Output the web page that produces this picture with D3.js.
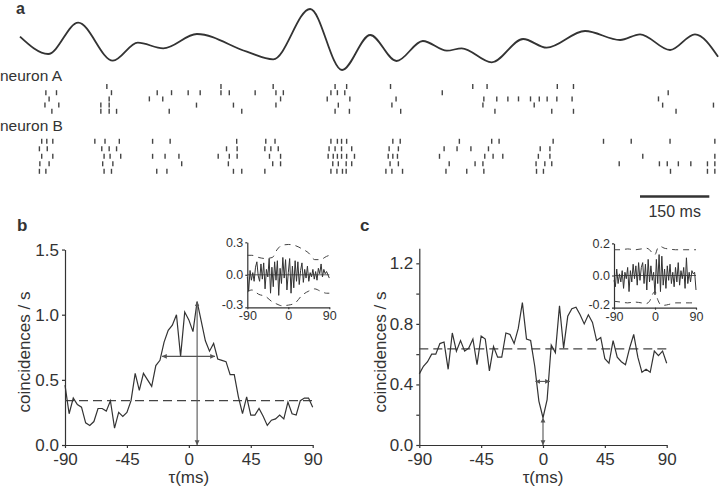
<!DOCTYPE html>
<html>
<head>
<meta charset="utf-8">
<script src="https://cdn.jsdelivr.net/npm/d3@7/dist/d3.min.js"></script>
<style>
  body { margin: 0; background: #fff; }
  svg { font-family: "Liberation Sans", Arial, Helvetica, sans-serif; }
</style>
</head>
<body>
<svg id="fig" width="720" height="491"></svg>
<script>
// ---- panel a : stimulus waveform (extrema, ms / arbitrary units)
var waveT = [0, 61, 126, 201, 255, 310, 383, 491, 548, 628, 697, 758, 815, 872, 924, 956, 1021, 1089, 1140, 1223, 1299, 1342, 1407, 1461, 1511];
var waveV = [0.33, -1.4, 1.73, -2.07, -0.27, -0.83, 0.6, -1.17, -1.93, 3.1, -3.0, 0.5, -2.1, -0.1, -1.07, -0.83, -2.23, 0.1, -0.77, 0.9, 0.0, 0.57, -1.0, 0.57, -1.67];

// spike times (ms), one list per trial
var spikesA = [
  [188, 435, 548, 682, 707, 802, 980, 1011, 1163, 1198],
  [56, 79, 198, 297, 328, 364, 390, 435, 453, 509, 554, 570, 673, 687, 703, 914, 1403],
  [63, 193, 280, 309, 564, 665, 714, 814, 1004, 1032, 1056, 1079, 1105, 1124, 1141, 1162, 1195, 1382],
  [54, 84, 175, 193, 382, 462, 554, 689, 805, 1002, 1113, 1391, 1501],
  [69, 175, 193, 209, 323, 480, 682, 713, 824, 1028, 1151, 1198, 1420]
];
var spikesB = [
  [47, 58, 71, 162, 184, 215, 287, 325, 469, 532, 552, 673, 687, 696, 707, 807, 823, 951, 1021, 1037, 1154, 1263, 1323, 1407, 1504],
  [42, 59, 177, 193, 209, 447, 470, 530, 543, 559, 669, 682, 696, 718, 799, 819, 918, 946, 976, 1014, 1126, 1147],
  [47, 71, 182, 195, 218, 287, 314, 344, 429, 453, 470, 540, 564, 667, 678, 687, 696, 707, 724, 797, 807, 817, 908, 1006, 1024, 1045, 1122, 1147, 1348, 1504],
  [43, 63, 179, 201, 350, 451, 547, 564, 677, 689, 706, 718, 801, 819, 929, 985, 1002, 1117, 1136, 1151, 1297, 1384, 1401, 1425, 1452, 1488, 1504],
  [42, 56, 182, 198, 296, 318, 462, 480, 530, 673, 686, 698, 706, 792, 805, 828, 922, 967, 1004, 1118, 1133, 1408, 1488, 1504]
];
var scaleBarStart = 1342, scaleBarLen = 150;

// ---- panels b, c : cross-correlograms (3 ms bins)
var lags = d3.range(-90, 91, 3);
var ccgB = [0.46, 0.24, 0.36, 0.31, 0.29, 0.17, 0.15, 0.18, 0.28, 0.28, 0.26, 0.34, 0.13, 0.25, 0.22, 0.25,
            0.34, 0.55, 0.42, 0.55, 0.50, 0.45, 0.61, 0.65, 0.79, 0.88, 0.92, 1.00, 0.68, 1.02, 0.96, 0.87,
            1.10, 0.95, 0.80, 0.72, 0.78, 0.66, 0.65, 0.64, 0.54, 0.54, 0.37, 0.24, 0.37, 0.23, 0.23, 0.28,
            0.22, 0.15, 0.19, 0.20, 0.23, 0.20, 0.33, 0.24, 0.23, 0.34, 0.36, 0.36, 0.29];
var baseB = 0.34;
var ccgC = [0.47, 0.52, 0.55, 0.60, 0.60, 0.67, 0.68, 0.50, 0.74, 0.62, 0.69, 0.62, 0.64, 0.70, 0.53, 0.72,
            0.70, 0.49, 0.65, 0.58, 0.58, 0.74, 0.73, 0.67, 0.77, 0.94, 0.70, 0.69, 0.52, 0.29, 0.18, 0.30,
            0.66, 0.61, 0.92, 0.64, 0.85, 0.90, 0.91, 0.86, 0.80, 0.86, 0.81, 0.69, 0.71, 0.57, 0.54, 0.69,
            0.58, 0.55, 0.53, 0.64, 0.73, 0.58, 0.48, 0.50, 0.48, 0.62, 0.59, 0.62, 0.54];
var baseC = 0.635;

// insets: residuals and significance bounds
var resB = [-0.02, -0.15, 0.04, -0.05, 0.02, -0.06, 0.07, 0.12, -0.01, -0.06, 0.10, -0.04, 0.11, -0.13, 0.05, -0.02,
            0.15, -0.17, 0.07, -0.11, 0.12, -0.05, 0.13, -0.19, 0.06, -0.08, 0.16, -0.03, 0.14, -0.14, 0.02, 0.15,
            -0.17, 0.08, -0.12, 0.13, -0.06, 0.12, -0.09, 0.04, 0.11, -0.07, 0.05, -0.03, 0.08, -0.06, 0.02, -0.02,
            0.05, -0.04, 0.03, -0.05, 0.06, 0.01, 0.10, -0.02, 0.05, 0.01, 0.03, 0.00, -0.03];
var resC = [-0.03, -0.07, 0.04, -0.05, 0.01, -0.04, 0.03, -0.08, 0.02, -0.02, 0.05, -0.10, 0.03, -0.04, 0.07, -0.02,
            0.06, -0.06, 0.08, -0.03, 0.05, 0.08, -0.05, 0.07, -0.09, 0.10, -0.04, 0.06, -0.03, 0.02, -0.12, 0.10,
            -0.05, 0.13, -0.10, 0.12, -0.06, 0.04, -0.08, 0.06, -0.03, 0.07, -0.05, 0.02, -0.07, 0.05, -0.04, 0.08,
            -0.06, 0.03, -0.02, 0.05, -0.08, 0.11, -0.05, 0.02, -0.04, 0.03, 0.01, 0.02, -0.09];
var bandLagsB = [-90, -80, -65, -50, -35, -25, -15, 0, 15, 30, 45, 58, 70, 84, 90];
var bandUpB = [0.18, 0.18, 0.16, 0.15, 0.16, 0.23, 0.27, 0.28, 0.27, 0.24, 0.20, 0.14, 0.14, 0.17, 0.18];
var bandLoB = [-0.16, -0.14, -0.18, -0.20, -0.25, -0.27, -0.285, -0.28, -0.26, -0.19, -0.15, -0.13, -0.15, -0.17, -0.17];
var bandLagsC = [-90, -75, -60, -45, -30, -20, -12, -6, 0, 6, 12, 20, 30, 45, 60, 75, 90];
var bandUpC = [0.16, 0.16, 0.165, 0.16, 0.165, 0.17, 0.16, 0.14, 0.13, 0.17, 0.18, 0.17, 0.165, 0.16, 0.16, 0.16, 0.16];
var bandLoC = [-0.16, -0.165, -0.17, -0.165, -0.17, -0.175, -0.16, -0.12, -0.10, -0.15, -0.18, -0.185, -0.18, -0.17, -0.17, -0.17, -0.17];

var ink = "#333";
var svg = d3.select("#fig");

var defs = svg.append("defs");
defs.append("marker")
    .attr("id", "arr")
    .attr("viewBox", "0 -3 5 6")
    .attr("refX", 4.8).attr("refY", 0)
    .attr("markerUnits", "userSpaceOnUse")
    .attr("markerWidth", 5).attr("markerHeight", 6)
    .attr("orient", "auto-start-reverse")
  .append("path")
    .attr("d", "M0,-2.4L5,0L0,2.4Z")
    .attr("fill", "#555");

// ===================== panel a =====================
svg.append("text").attr("x", 16).attr("y", 14)
    .attr("font-size", 16).attr("font-weight", "bold").attr("fill", ink).text("a");

var xT = d3.scaleLinear().domain([0, 1500]).range([20, 713]);
var yW = d3.scaleLinear().domain([-3, 3.1]).range([70, 9]);

svg.append("path")
    .datum(waveT.map(function(t, i){ return [t, waveV[i]]; }))
    .attr("d", d3.line().x(function(d){ return xT(d[0]); }).y(function(d){ return yW(d[1]); }).curve(d3.curveMonotoneX))
    .attr("fill", "none").attr("stroke", ink).attr("stroke-width", 1.8);

svg.append("text").attr("x", 0).attr("y", 81).attr("font-size", 15.5).attr("fill", ink).text("neuron A");
svg.append("text").attr("x", 0).attr("y", 131).attr("font-size", 15.5).attr("fill", ink).text("neuron B");

function raster(spikes, top, bottom){
  var yr = d3.scalePoint().domain(d3.range(spikes.length)).range([top, bottom]);
  spikes.forEach(function(row, i){
    svg.append("g").selectAll("line")
      .data(row)
      .enter().append("line")
        .attr("x1", function(d){ return xT(d); })
        .attr("x2", function(d){ return xT(d); })
        .attr("y1", yr(i) - 2.5)
        .attr("y2", yr(i) + 2.5)
        .attr("stroke", "#444")
        .attr("stroke-width", 1.4);
  });
}
raster(spikesA, 86.5, 111.3);
raster(spikesB, 141.3, 171.3);

svg.append("line")
    .attr("x1", xT(scaleBarStart)).attr("x2", xT(scaleBarStart + scaleBarLen))
    .attr("y1", 196.5).attr("y2", 196.5)
    .attr("stroke", ink).attr("stroke-width", 2.4);
svg.append("text")
    .attr("x", (xT(scaleBarStart) + xT(scaleBarStart + scaleBarLen)) / 2).attr("y", 217)
    .attr("text-anchor", "middle").attr("font-size", 16).attr("fill", ink).text("150 ms");

// ===================== panels b, c =====================
function styleAxis(g, size){
  g.selectAll("path, line").attr("stroke", ink).attr("stroke-width", 1.2);
  g.selectAll("text").attr("fill", ink).attr("font-size", size).attr("font-family", null);
}

function ccgPanel(o){
  var x = d3.scaleLinear().domain([-90, 90]).range(o.xr);
  var y = d3.scaleLinear().domain([0, o.ymax]).range([445, 445 - o.ymax * o.ppu]);
  var g = svg.append("g");

  svg.append("text").attr("x", o.letterX).attr("y", 231)
      .attr("font-size", 17).attr("font-weight", "bold").attr("fill", ink).text(o.letter);

  var ya = g.append("g").attr("transform", "translate(" + o.xr[0] + ",0)")
      .call(d3.axisLeft(y).tickValues(o.yticks).tickSizeInner(3).tickSizeOuter(0).tickPadding(3)
        .tickFormat(o.yfmt));
  styleAxis(ya, 17);
  var xa = g.append("g").attr("transform", "translate(0,445)")
      .call(d3.axisBottom(x).tickValues([-90, -45, 0, 45, 90]).tickSizeInner(3).tickSizeOuter(0).tickPadding(5)
        .tickFormat(function(d){ return String(d); }));
  styleAxis(xa, 17);

  g.append("line")
      .attr("x1", x(-90)).attr("x2", x(90)).attr("y1", y(o.base)).attr("y2", y(o.base))
      .attr("stroke", "#444").attr("stroke-width", 1.2).attr("stroke-dasharray", "9,5");

  g.append("path")
      .datum(lags.map(function(t, i){ return [t, o.values[i]]; }))
      .attr("d", d3.line().x(function(d){ return x(d[0]); }).y(function(d){ return y(d[1]); }))
      .attr("fill", "none").attr("stroke", ink).attr("stroke-width", 1.2);

  // width and height arrows
  g.append("line")
      .attr("x1", x(o.hArrow[0])).attr("x2", x(o.hArrow[1]))
      .attr("y1", y(o.hArrow[2])).attr("y2", y(o.hArrow[2]))
      .attr("stroke", "#555").attr("stroke-width", 1.1)
      .attr("marker-start", "url(#arr)").attr("marker-end", "url(#arr)");
  g.append("line")
      .attr("x1", x(o.vArrow[0])).attr("x2", x(o.vArrow[0]))
      .attr("y1", y(0)).attr("y2", y(o.vArrow[1]))
      .attr("stroke", "#555").attr("stroke-width", 1.1)
      .attr("marker-start", "url(#arr)").attr("marker-end", "url(#arr)");

  svg.append("text")
      .attr("transform", "translate(" + o.ylabX + ",352) rotate(-90)")
      .attr("text-anchor", "middle").attr("font-size", 17).attr("fill", ink)
      .text("coincidences / s");
  svg.append("text")
      .attr("x", x(0)).attr("y", 483)
      .attr("text-anchor", "middle").attr("font-size", 17).attr("fill", ink)
      .text("τ(ms)");

  // inset
  var ix = d3.scaleLinear().domain([-90, 90]).range(o.ixr);
  var iy = d3.scaleLinear().domain([-o.ilim, o.ilim]).range(o.iyr);
  var ig = svg.append("g");
  var iya = ig.append("g").attr("transform", "translate(" + o.ixr[0] + ",0)")
      .call(d3.axisLeft(iy).tickValues([-o.ilim, 0, o.ilim]).tickSizeInner(2).tickSizeOuter(0).tickPadding(2)
        .tickFormat(function(d){ return d.toFixed(1); }));
  styleAxis(iya, 12.5);
  iya.selectAll("text").attr("dy", function(d){ return d < 0 ? "0.1em" : "0.32em"; });
  var ixa = ig.append("g").attr("transform", "translate(0," + o.iyr[0] + ")")
      .call(d3.axisBottom(ix).tickValues([-90, 0, 90]).tickSizeInner(2).tickSizeOuter(0).tickPadding(2)
        .tickFormat(function(d){ return String(d); }));
  styleAxis(ixa, 12.5);

  ig.append("line")
      .attr("x1", ix(-90)).attr("x2", ix(90)).attr("y1", iy(0)).attr("y2", iy(0))
      .attr("stroke", ink).attr("stroke-width", 0.8);
  [o.bandUp, o.bandLo].forEach(function(b){
    ig.append("path")
        .datum(o.bandLags.map(function(t, i){ return [t, b[i]]; }))
        .attr("d", d3.line().x(function(d){ return ix(d[0]); }).y(function(d){ return iy(d[1]); }).curve(d3.curveMonotoneX))
        .attr("fill", "none").attr("stroke", "#444").attr("stroke-width", 1).attr("stroke-dasharray", "6,5");
  });
  ig.append("path")
      .datum(lags.map(function(t, i){ return [t, o.res[i]]; }))
      .attr("d", d3.line().x(function(d){ return ix(d[0]); }).y(function(d){ return iy(d[1]); }))
      .attr("fill", "none").attr("stroke", ink).attr("stroke-width", 1);
}

ccgPanel({
  letter: "b", letterX: 17, xr: [65, 312.7], ymax: 1.5, ppu: 130.3,
  yticks: [0, 0.5, 1.0, 1.5], yfmt: function(d){ return d.toFixed(1); },
  values: ccgB, base: baseB, hArrow: [-19.5, 19, 0.68], vArrow: [6, 1.1], ylabX: 30,
  ixr: [247.3, 329.3], iyr: [307.3, 242.3], ilim: 0.3,
  res: resB, bandLags: bandLagsB, bandUp: bandUpB, bandLo: bandLoB
});

ccgPanel({
  letter: "c", letterX: 360, xr: [419.3, 666.7], ymax: 1.3, ppu: 151.4,
  yticks: [0, 0.2, 0.4, 0.6, 0.8, 1.0, 1.2],
  yfmt: function(d){ return Math.round(d * 10) % 4 === 0 ? d.toFixed(1) : ""; },
  values: ccgC, base: baseC, hArrow: [-5.5, 5, 0.42], vArrow: [0, 0.18], ylabX: 386,
  ixr: [614, 696], iyr: [307.7, 243.3], ilim: 0.2,
  res: resC, bandLags: bandLagsC, bandUp: bandUpC, bandLo: bandLoC
});
</script>
</body>
</html>
